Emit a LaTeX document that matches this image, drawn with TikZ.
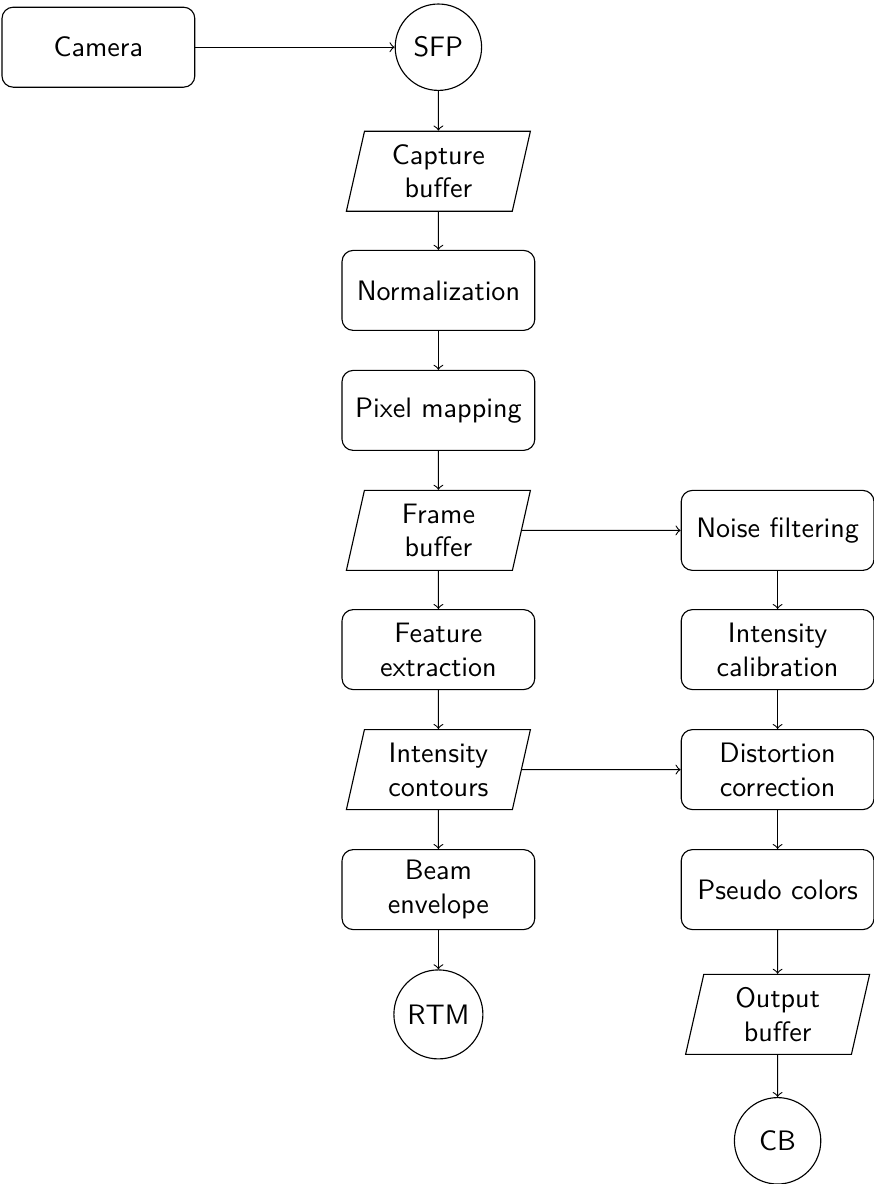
\documentclass[tikz,border=0pt]{standalone}
\usepackage{tikz}
\usetikzlibrary{shapes.geometric}
\tikzset{
    proc/.style={draw, rounded corners, minimum width=2.41cm, minimum height=1cm, align=center, font=\sffamily},
    buf/.style={draw, trapezium, trapezium left angle=76, trapezium right angle=104, trapezium stretches body, minimum width=2.3cm, minimum height=1cm, align=center, font=\sffamily},
    term/.style={draw, circle, minimum size=1.08cm, font=\sffamily}
}
\begin{document}
\begin{tikzpicture}[scale=1,->]
                \useasboundingbox (0,0) rectangle (10.925,-14.8);
                \node[proc] (cam) at (1.23,-0.59) {Camera};
                \node[term] (sfp) at (5.48,-0.59) {SFP};
                \node[buf] (capbuf) at (5.48,-2.14) {Capture\\buffer};
                \node[proc] (norm) at (5.48,-3.63) {Normalization};
                \node[proc] (pixmap) at (5.48,-5.13) {Pixel mapping};
                \node[buf] (frmbuf) at (5.48,-6.63) {Frame\\buffer};
                \node[proc] (featx) at (5.48,-8.12) {Feature\\extraction};
                \node[buf] (contours) at (5.48,-9.62) {Intensity\\contours};
                \node[proc] (beamenv) at (5.48,-11.12) {Beam\\envelope};
                \node[term] (rtm) at (5.48,-12.68) {RTM};
                % right column
                \node[proc] (noise) at (9.72,-6.63) {Noise filtering};
                \node[proc] (intcal) at (9.72,-8.12) {Intensity\\calibration};
                \node[proc] (distcor) at (9.72,-9.62) {Distortion\\correction};
                \node[proc] (pseudo) at (9.72,-11.12) {Pseudo colors};
                \node[buf] (outbuf) at (9.72,-12.68) {Output\\buffer};
                \node[term] (cb) at (9.72,-14.26) {CB};
                \draw (cam) -- (sfp);
                \draw (sfp) -- (capbuf);
                \draw (capbuf) -- (norm);
                \draw (norm) -- (pixmap);
                \draw (pixmap) -- (frmbuf);
                \draw (frmbuf) -- (featx);
                \draw (frmbuf) -- (noise);
                \draw (featx) -- (contours);
                \draw (contours) -- (beamenv);
                \draw (contours) -- (distcor);
                \draw (beamenv) -- (rtm);
                \draw (noise) -- (intcal);
                \draw (intcal) -- (distcor);
                \draw (distcor) -- (pseudo);
                \draw (pseudo) -- (outbuf);
                \draw (outbuf) -- (cb);
            \end{tikzpicture}
\end{document}
